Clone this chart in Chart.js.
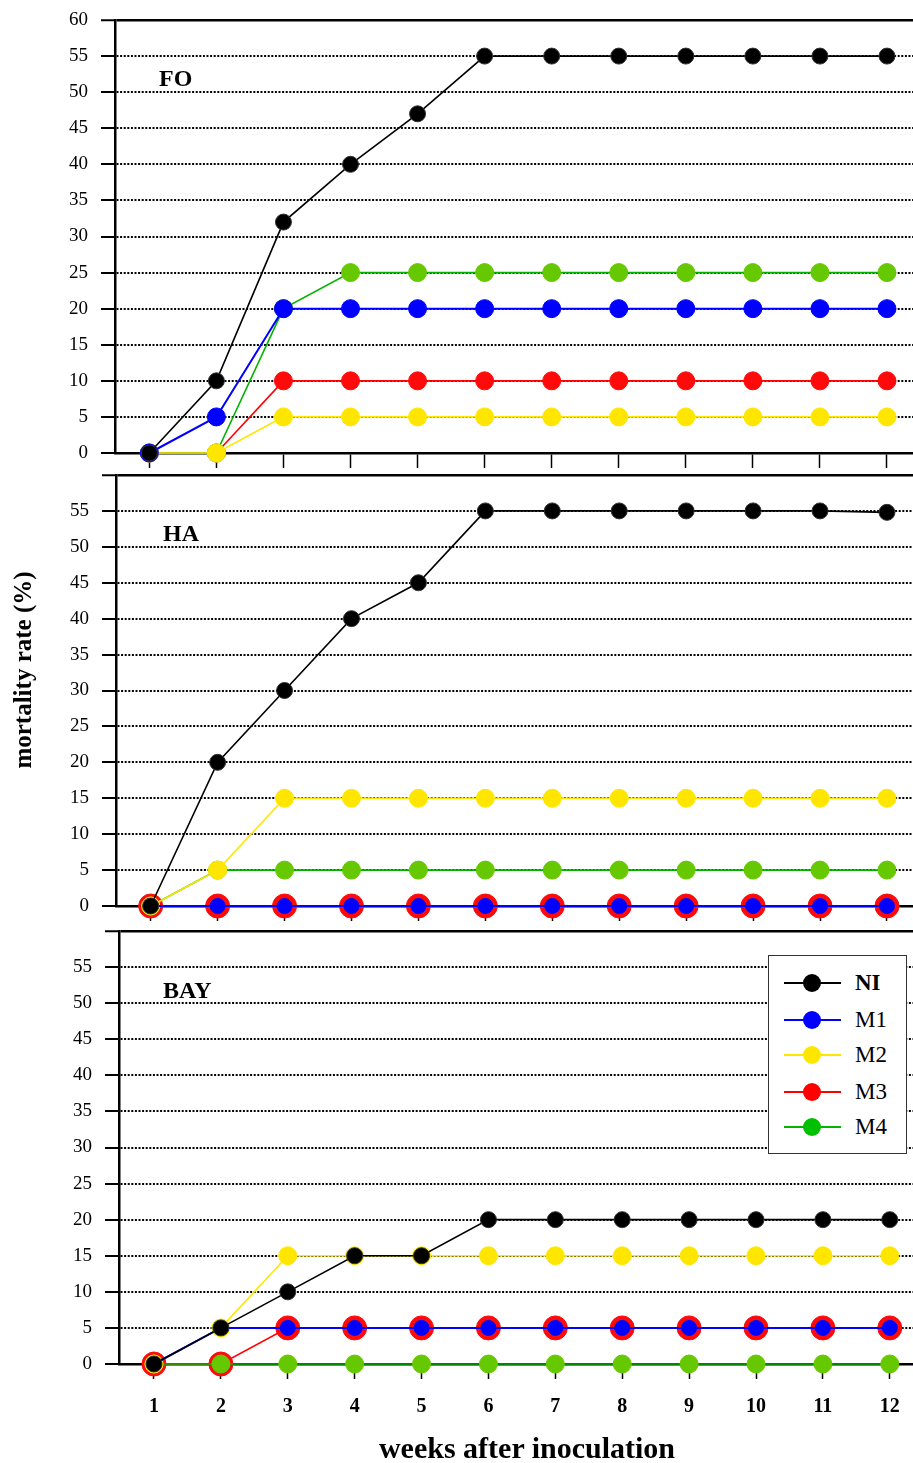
<!DOCTYPE html>
<html>
<head>
<meta charset="utf-8">
<script src="https://cdn.jsdelivr.net/npm/chart.js@4.4.1/dist/chart.umd.min.js"></script>
<style>
html,body{margin:0;padding:0;background:#fff;}
#wrap{position:relative;width:913px;height:1463px;overflow:hidden;font-family:"Liberation Serif","Times New Roman",serif;color:#000;background:#fff;}
canvas{position:absolute;left:0;}
.plab{position:absolute;font-weight:bold;font-size:24px;line-height:24px;white-space:nowrap;}
#ytitle{position:absolute;left:-127px;top:655px;width:300px;height:30px;line-height:30px;text-align:center;font-weight:bold;font-size:25px;transform:rotate(-90deg);white-space:nowrap;}
#xtitle{position:absolute;left:277px;top:1432px;width:500px;height:32px;line-height:32px;text-align:center;font-weight:bold;font-size:30px;white-space:nowrap;}
#legend{position:absolute;left:768px;top:955px;width:139px;height:199px;box-sizing:border-box;border:1.5px solid #333;background:#fff;}
.lrow{position:absolute;left:0;width:137px;height:30px;}
.lline{position:absolute;left:15px;top:14px;width:57px;height:2px;}
.ldot{position:absolute;left:34px;top:6px;width:18px;height:18px;border-radius:50%;}
.ltxt{position:absolute;left:86px;top:0;line-height:30px;font-size:23px;}
</style>
</head>
<body>
<div id="wrap">
<canvas id="c1" width="913" height="470" style="top:0px"></canvas>
<canvas id="c2" width="913" height="465" style="top:460px"></canvas>
<canvas id="c3" width="913" height="548" style="top:915px"></canvas>
<div class="plab" style="left:159px;top:66px">FO</div>
<div class="plab" style="left:163px;top:521px">HA</div>
<div class="plab" style="left:163px;top:978px">BAY</div>
<div id="ytitle">mortality rate (%)</div>
<div id="xtitle">weeks after inoculation</div>
<div id="legend"></div>
</div>
<script>
// ---- data ----
const weeks = [1, 2, 3, 4, 5, 6, 7, 8, 9, 10, 11, 12];
const yTicks = [0, 5, 10, 15, 20, 25, 30, 35, 40, 45, 50, 55, 60];
const seriesNames = ['NI', 'M1', 'M2', 'M3', 'M4'];
const panelNames = ['FO', 'HA', 'BAY'];

const FO_NI = [0, 10, 32, 40, 47, 55, 55, 55, 55, 55, 55, 55];
const FO_M1 = [0, 5, 20, 20, 20, 20, 20, 20, 20, 20, 20, 20];
const FO_M2 = [0, 0, 5, 5, 5, 5, 5, 5, 5, 5, 5, 5];
const FO_M3 = [0, 0, 10, 10, 10, 10, 10, 10, 10, 10, 10, 10];
const FO_M4 = [0, 0, 20, 25, 25, 25, 25, 25, 25, 25, 25, 25];

const HA_NI = [0, 20, 30, 40, 45, 55, 55, 55, 55, 55, 55, 54.8];
const HA_M1 = [0, 0, 0, 0, 0, 0, 0, 0, 0, 0, 0, 0];
const HA_M2 = [0, 5, 15, 15, 15, 15, 15, 15, 15, 15, 15, 15];
const HA_M3 = [0, 0, 0, 0, 0, 0, 0, 0, 0, 0, 0, 0];
const HA_M4 = [0, 5, 5, 5, 5, 5, 5, 5, 5, 5, 5, 5];

const BAY_NI = [0, 5, 10, 15, 15, 20, 20, 20, 20, 20, 20, 20];
const BAY_M1 = [0, 5, 5, 5, 5, 5, 5, 5, 5, 5, 5, 5];
const BAY_M2 = [0, 5, 15, 15, 15, 15, 15, 15, 15, 15, 15, 15];
const BAY_M3 = [0, 0, 5, 5, 5, 5, 5, 5, 5, 5, 5, 5];
const BAY_M4 = [0, 0, 0, 0, 0, 0, 0, 0, 0, 0, 0, 0];

// ---- styles ----
const SERIF = '"Liberation Serif", "Times New Roman", serif';
const lineColors = {NI: '#000000', M1: '#0000ff', M2: '#ffe600', M3: '#ff0000', M4: '#00b400'};
const pointColors = {NI: '#000000', M1: '#0000ff', M2: '#ffe600', M3: '#ff0a0a', M4: '#66c800'};
const legendDot = {NI: '#000000', M1: '#0000ff', M2: '#ffe600', M3: '#ff0000', M4: '#00c000'};
const drawOrder = {NI: 0, M1: 1, M2: 2, M4: 3, M3: 4};

function makeChart(id, values, p) {
  const datasets = seriesNames.map((name, i) => ({
    label: name,
    data: weeks.map((w, j) => ({x: w, y: values[i][j]})),
    borderColor: lineColors[name],
    backgroundColor: pointColors[name],
    pointBackgroundColor: pointColors[name],
    pointBorderColor: name === 'NI' ? '#333333' : pointColors[name],
    pointBorderWidth: 1,
    pointRadius: p.radii[name],
    pointHoverRadius: p.radii[name],
    borderWidth: name === 'M1' ? 2 : 1.6,
    tension: 0,
    fill: false,
    order: drawOrder[name],
    clip: false
  }));
  return new Chart(document.getElementById(id), {
    type: 'line',
    data: {datasets},
    options: {
      responsive: false,
      animation: false,
      events: [],
      layout: {autoPadding: false, padding: {top: p.padTop, left: 0, right: 0, bottom: 0}},
      plugins: {legend: {display: false}, tooltip: {enabled: false}},
      scales: {
        x: {
          type: 'linear', min: p.xmin, max: p.xmax,
          afterBuildTicks: s => { s.ticks = weeks.map(v => ({value: v})); },
          afterFit: s => { s.height = p.xHeight; s.paddingLeft = 0; s.paddingRight = 0; },
          grid: {drawOnChartArea: false, drawTicks: true, tickLength: 15, tickColor: '#000', tickWidth: 1.5},
          border: {display: true, color: '#000', width: 2.5},
          ticks: {
            padding: 16, color: '#000', maxRotation: 0, autoSkip: false,
            font: {family: SERIF, size: 20, weight: 'bold'},
            callback: v => p.showX ? String(v) : ''
          }
        },
        y: {
          type: 'linear', min: 0, max: 60,
          afterBuildTicks: s => { s.ticks = yTicks.map(v => ({value: v})); },
          afterFit: s => { s.width = p.yWidth; s.paddingTop = 0; s.paddingBottom = 0; },
          grid: {
            drawOnChartArea: true, drawTicks: true, tickLength: 14, tickColor: '#000', tickWidth: 2,
            color: '#000',
            lineWidth: c => (c.tick && c.tick.value === 60) ? 2.5 : 2
          },
          border: {
            display: true, color: '#000', width: 2.5,
            dash: c => (c.tick && c.tick.value === 60) ? [] : [2, 1.6]
          },
          ticks: {
            padding: 13, color: '#000',
            font: {family: SERIF, size: 19},
            callback: v => (v === 60 && !p.showTop) ? '' : String(v)
          }
        }
      }
    }
  });
}

makeChart('c1', [FO_NI, FO_M1, FO_M2, FO_M3, FO_M4], {
  padTop: 20, xHeight: 17, yWidth: 115, xmin: 0.488, xmax: 12.388, showX: false, showTop: true,
  radii: {NI: 8, M1: 9, M2: 9, M3: 9, M4: 9}
});
makeChart('c2', [HA_NI, HA_M1, HA_M2, HA_M3, HA_M4], {
  padTop: 15, xHeight: 19, yWidth: 116, xmin: 0.482, xmax: 12.389, showX: false, showTop: false,
  radii: {NI: 8, M1: 7.5, M2: 9, M3: 12, M4: 9}
});
makeChart('c3', [BAY_NI, BAY_M1, BAY_M2, BAY_M3, BAY_M4], {
  padTop: 16, xHeight: 99, yWidth: 119, xmin: 0.477, xmax: 12.347, showX: true, showTop: false,
  radii: {NI: 8, M1: 7.5, M2: 9, M3: 12, M4: 9}
});

// ---- legend (HTML) ----
const legendRowTops = [12, 49, 84, 121, 156];
const legend = document.getElementById('legend');
seriesNames.forEach((name, i) => {
  const row = document.createElement('div');
  row.className = 'lrow';
  row.style.top = legendRowTops[i] + 'px';
  const ln = document.createElement('div');
  ln.className = 'lline';
  ln.style.background = lineColors[name];
  const dot = document.createElement('div');
  dot.className = 'ldot';
  dot.style.background = legendDot[name];
  const tx = document.createElement('div');
  tx.className = 'ltxt';
  tx.textContent = name;
  if (name === 'NI') tx.style.fontWeight = 'bold';
  row.appendChild(ln); row.appendChild(dot); row.appendChild(tx);
  legend.appendChild(row);
});
</script>
</body>
</html>
